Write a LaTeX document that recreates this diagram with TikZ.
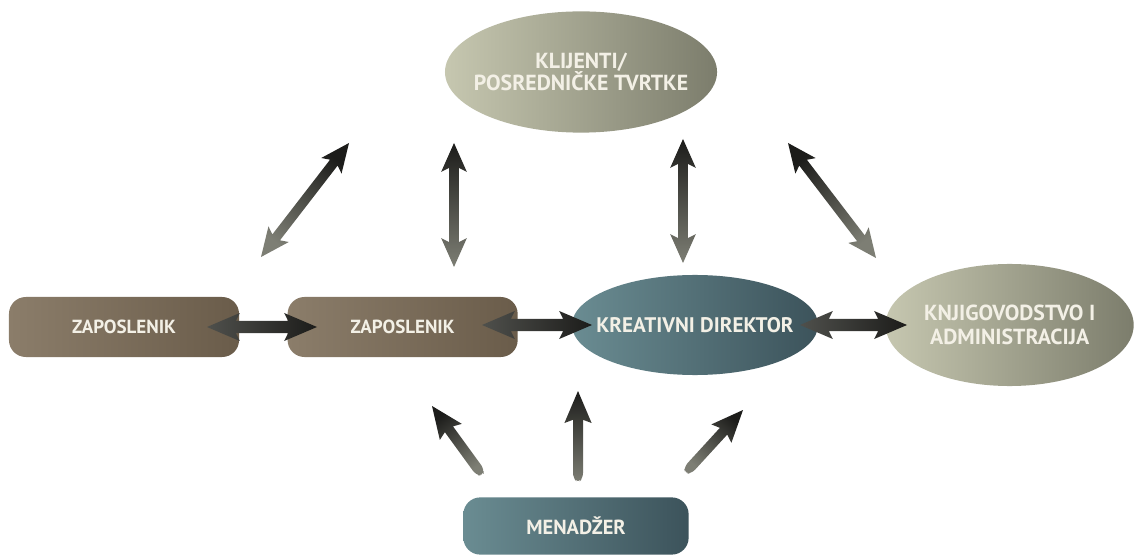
\documentclass[tikz,border=0pt]{standalone}
\usepackage{fontspec}
\setmainfont{PT Sans}
\usetikzlibrary{arrows.meta, positioning, shapes.geometric, calc}

\definecolor{sivaL}{HTML}{C6C7B0}
\definecolor{sivaR}{HTML}{7C7D6C}
\definecolor{tirkizL}{HTML}{6A8C92}
\definecolor{tirkizR}{HTML}{3C535B}
\definecolor{smedjaL}{HTML}{8B7D6A}
\definecolor{smedjaR}{HTML}{6A5C4A}
\definecolor{tekst}{HTML}{F3F0E6}
\definecolor{strTamna}{HTML}{1C1C1A}
\definecolor{strSrednja}{HTML}{4F504C}
\definecolor{strSiva}{HTML}{7D7E74}

% debela strelica s dvije glave
\newcommand{\dvostruka}[4]{%
  \pgfmathanglebetweenpoints{\pgfpointanchor{#1}{center}}{\pgfpointanchor{#2}{center}}
  \pgfmathsetmacro{\kut}{\pgfmathresult-90}
  \coordinate (hA) at ($(#1)!\glava!(#2)$);
  \coordinate (kA) at ($(#1)!\krajglave!(#2)$);
  \coordinate (hB) at ($(#2)!\glava!(#1)$);
  \coordinate (kB) at ($(#2)!\krajglave!(#1)$);
  \shade[top color=#4, bottom color=#3, shading angle=\kut]
    (#1) -- ($(kA)!\krilo!90:(#2)$) -- ($(hA)!\trup!90:(#2)$)
    -- ($(hB)!\trup!-90:(#1)$) -- ($(kB)!\krilo!-90:(#1)$) -- (#2)
    -- ($(kB)!\krilo!90:(#1)$) -- ($(hB)!\trup!90:(#1)$)
    -- ($(hA)!\trup!-90:(#2)$) -- ($(kA)!\krilo!-90:(#2)$) -- cycle;
}
% debela strelica s jednom glavom i oblim repom
\newcommand{\jednostruka}[4]{%
  \pgfmathanglebetweenpoints{\pgfpointanchor{#1}{center}}{\pgfpointanchor{#2}{center}}
  \pgfmathsetmacro{\kut}{\pgfmathresult-90}
  \coordinate (hB) at ($(#2)!\glava!(#1)$);
  \coordinate (kB) at ($(#2)!\krajglave!(#1)$);
  \shade[top color=#4, bottom color=#3, shading angle=\kut]
    (#2) -- ($(kB)!\krilo!-90:(#1)$) -- ($(hB)!\trup!-90:(#1)$)
    [rounded corners=3.5pt] -- ($(#1)!\trup!90:(#2)$) -- ($(#1)!\trup!180:(#2)$)
    -- ($(#1)!\trup!-90:(#2)$) [sharp corners] -- ($(hB)!\trup!90:(#1)$)
    -- ($(kB)!\krilo!90:(#1)$) -- cycle;
}

\begin{document}
\begin{tikzpicture}[x=0.025cm, y=-0.025cm,
    oval/.style={ellipse, inner xsep=-30pt, inner ysep=0pt, text=tekst, align=center},
    ovalsivi/.style={oval, left color=sivaL, right color=sivaR},
    ovaltirkiz/.style={oval, left color=tirkizL, right color=tirkizR},
    kutija/.style={rectangle, rounded corners=12pt, inner sep=0pt, text=tekst,
                   minimum width=5.75cm, minimum height=1.5cm},
    zaposlenik/.style={kutija, left color=smedjaL, right color=smedjaR,
                   font=\bfseries\fontsize{13.5}{15}\selectfont}]
    \useasboundingbox (0,0) rectangle (1135,556);

    % Čvorovi
    \node[ovalsivi, minimum width=6.8cm, minimum height=3.03cm,
          font=\bfseries\fontsize{15.5}{16}\selectfont] (klijenti) at (581,72)
          {KLIJENTI/\\POSREDNIČKE TVRTKE};
    \node[ovaltirkiz, minimum width=6.15cm, minimum height=2.5cm,
          font=\bfseries\fontsize{15}{17}\selectfont] (direktor) at (695,325)
          {KREATIVNI DIREKTOR};
    \node[ovalsivi, minimum width=6.2cm, minimum height=3.05cm, right=1.675cm of direktor,
          font=\bfseries\fontsize{15.5}{17}\selectfont] (knjigovodstvo)
          {KNJIGOVODSTVO I\\ADMINISTRACIJA};
    \node[zaposlenik] (zap1) at (124,327) {ZAPOSLENIK};
    \node[zaposlenik, right=1.2cm of zap1] (zap2) {ZAPOSLENIK};
    \node[kutija, left color=tirkizL, right color=tirkizR, minimum width=5.63cm,
          minimum height=1.43cm, font=\bfseries\fontsize{14.5}{16}\selectfont]
          (menadzer) at (576,526) {MENADŽER};

    % Krajevi strelica
    \foreach \ime/\x/\y in {h1a/207/327, h1b/317/327, h2a/482/325, h2b/592/325,
                            h3a/800/325, h3b/907/325,
                            g1a/261/257, g1b/349/143, g2a/454/267, g2b/454/143,
                            g3a/683/263, g3b/683/139, g4a/876/258, g4b/788/143,
                            d1a/480/472, d1b/432/406, d2a/578/478, d2b/578/391,
                            d3a/688/470, d3b/743/410}
        \coordinate (\ime) at (\x,\y);

    % Vodoravne strelice
    \def\glava{0.72cm}\def\krajglave{0.82cm}\def\krilo{0.35cm}\def\trup{0.15cm}
    \foreach \a/\b in {h1a/h1b, h2a/h2b, h3a/h3b}
        \dvostruka{\a}{\b}{strSrednja}{strTamna};

    % Strelice prema klijentima
    \def\glava{0.62cm}\def\krajglave{0.72cm}\def\krilo{0.32cm}\def\trup{0.12cm}
    \foreach \a/\b in {g1a/g1b, g2a/g2b, g3a/g3b, g4a/g4b}
        \dvostruka{\a}{\b}{strSiva}{strTamna};

    % Strelice od menadžera
    \def\glava{0.72cm}\def\krajglave{0.8cm}\def\krilo{0.34cm}\def\trup{0.125cm}
    \foreach \a/\b in {d1a/d1b, d2a/d2b, d3a/d3b}
        \jednostruka{\a}{\b}{strSiva}{strTamna};

\end{tikzpicture}
\end{document}
